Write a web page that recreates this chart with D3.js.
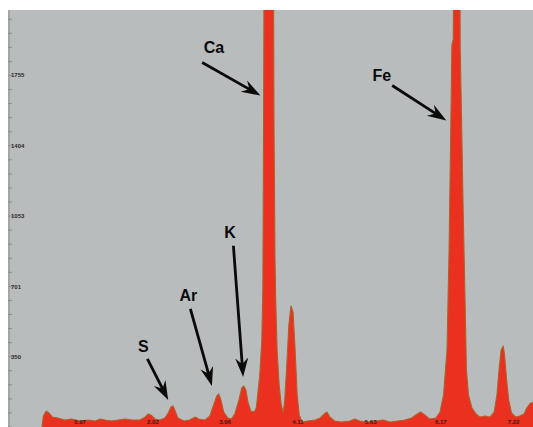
<!DOCTYPE html>
<html>
<head>
<meta charset="utf-8">
<script src="https://cdn.jsdelivr.net/npm/d3@7/dist/d3.min.js"></script>
<style>
  html, body { margin: 0; padding: 0; background: #ffffff; }
  svg { display: block; }
</style>
</head>
<body>
<svg id="chart" width="533" height="427"></svg>
<script>
// EDS spectrum: energy (keV) against counts
const energy = [0.42,0.44,0.48,0.52,0.57,0.65,0.75,0.85,0.97,1.09,1.19,1.26,1.33,1.43,1.52,1.62,1.72,1.83,1.91,1.95,1.99,2.05,2.12,2.19,2.24,2.28,2.31,2.34,2.38,2.47,2.55,2.63,2.68,2.77,2.84,2.90,2.94,2.97,3.00,3.04,3.10,3.15,3.20,3.26,3.30,3.33,3.36,3.39,3.43,3.48,3.51,3.53,3.56,3.59,3.605,3.615,3.625,3.69,3.755,3.765,3.78,3.79,3.81,3.84,3.87,3.90,3.92,3.95,3.98,4.01,4.04,4.07,4.10,4.13,4.17,4.25,4.36,4.43,4.49,4.53,4.57,4.64,4.74,4.86,4.93,5.00,5.12,5.22,5.34,5.44,5.55,5.65,5.75,5.83,5.88,5.94,6.01,6.10,6.16,6.21,6.26,6.29,6.32,6.33,6.35,6.37,6.40,6.44,6.45,6.47,6.49,6.52,6.54,6.57,6.62,6.68,6.73,6.81,6.88,6.94,6.98,7.01,7.04,7.07,7.09,7.12,7.15,7.19,7.25,7.31,7.37,7.41,7.45,7.50];
const counts = [0,55,80,70,50,45,35,40,30,35,30,40,35,30,35,40,35,35,50,65,60,40,35,45,70,100,105,80,45,30,35,50,40,35,55,115,155,165,135,75,45,40,65,135,195,205,185,125,80,75,95,160,260,435,700,1500,2600,5200,2600,1535,835,635,385,210,110,70,135,310,510,605,575,385,160,60,25,30,35,45,65,75,50,30,25,30,40,30,25,30,35,25,30,35,45,65,75,60,40,45,75,160,385,885,1635,1905,1935,3000,4100,3000,1905,1535,1135,635,285,160,95,65,50,55,50,75,160,285,385,405,360,235,135,70,50,55,65,95,115,125];

const xTickValues = [0.97, 2.02, 3.06, 4.11, 5.16, 6.17, 7.22];
const xTickLabels = ["0.97", "2.02", "3.06", "4.11", "5.63", "6.17", "7.22"];
const yTickValues = [350, 701, 1053, 1404, 1755];
const yTickLabels = ["350", "701", "1053", "1404", "1755"];

// element annotations: label point, arrow start and arrow tip, all in (keV, counts)
const elements   = ["S", "Ar", "K", "Ca", "Fe"];
const labelKeV   = [1.88, 2.53, 3.13, 2.90, 5.32];
const labelCnt   = [404, 659, 974, 1897, 1758];
const startKeV   = [1.94, 2.56, 3.18, 2.73, 5.47];
const startCnt   = [340, 590, 905, 1820, 1705];
const tipKeV     = [2.24, 2.87, 3.32, 3.57, 6.25];
const tipCnt     = [135, 205, 250, 1655, 1530];

const svg = d3.select("#chart");
const plot = { left: 8, top: 10, right: 533, bottom: 427 };

const x = d3.scaleLinear().domain([-0.07, 7.5]).range([plot.left, plot.right]);
const y = d3.scaleLinear().domain([0, 2082]).range([plot.bottom, plot.top]);

svg.append("defs").append("clipPath").attr("id", "plotClip")
  .append("rect")
  .attr("x", plot.left).attr("y", plot.top)
  .attr("width", plot.right - plot.left).attr("height", plot.bottom - plot.top);

// plot background
svg.append("rect")
  .attr("x", plot.left).attr("y", plot.top)
  .attr("width", plot.right - plot.left).attr("height", plot.bottom - plot.top)
  .attr("fill", "#b9bcbd");

// spectrum area
const pts = energy.map((e, i) => [e, counts[i]]);
const area = d3.area()
  .x(d => x(d[0]))
  .y0(y(0))
  .y1(d => y(d[1]));
const line = d3.line()
  .x(d => x(d[0]))
  .y(d => y(d[1]));

const g = svg.append("g").attr("clip-path", "url(#plotClip)");
g.append("path")
  .datum(pts)
  .attr("d", area)
  .attr("fill", "#ea301e");
g.append("path")
  .datum(pts)
  .attr("d", line)
  .attr("fill", "none")
  .attr("stroke", "#b0602c")
  .attr("stroke-width", 1.1)
  .attr("stroke-linejoin", "round");

// left axis strip with major and minor ticks
svg.append("rect")
  .attr("x", plot.left).attr("y", plot.top)
  .attr("width", 2).attr("height", plot.bottom - plot.top)
  .attr("fill", "#a3a6a8");

const minorTicks = d3.range(0, 2082, 351 / 5);
svg.append("g").selectAll("line.minor")
  .data(minorTicks)
  .join("line")
  .attr("x1", plot.left).attr("x2", plot.left + 4)
  .attr("y1", d => y(d)).attr("y2", d => y(d))
  .attr("stroke", "#8d9093").attr("stroke-width", 1);

svg.append("g").selectAll("text.ytick")
  .data(yTickValues)
  .join("text")
  .attr("x", plot.left + 3)
  .attr("y", d => y(d) + 2)
  .attr("font-family", "Liberation Sans, Arial, sans-serif")
  .attr("font-size", 6)
  .attr("font-weight", "bold")
  .attr("fill", "#2a2a2a")
  .text((d, i) => yTickLabels[i]);

// bottom tick labels
svg.append("g").selectAll("text.xtick")
  .data(xTickValues)
  .join("text")
  .attr("x", d => x(d))
  .attr("y", plot.bottom - 3)
  .attr("text-anchor", "middle")
  .attr("font-family", "Liberation Sans, Arial, sans-serif")
  .attr("font-size", 6)
  .attr("font-weight", "bold")
  .attr("fill", "#3a1a10")
  .text((d, i) => xTickLabels[i]);

// element arrows
function arrowPath(x0, y0, x1, y1) {
  const dx = x1 - x0, dy = y1 - y0;
  const len = Math.hypot(dx, dy);
  const ux = dx / len, uy = dy / len;
  const px = -uy, py = ux;
  const headLen = 19, headW = 6.5, shaftW = 1.4, notch = 5;
  const bx = x1 - ux * headLen, by = y1 - uy * headLen;
  const nx = x1 - ux * (headLen - notch), ny = y1 - uy * (headLen - notch);
  const p = [
    [x0 + px * shaftW, y0 + py * shaftW],
    [nx + px * shaftW, ny + py * shaftW],
    [bx + px * headW, by + py * headW],
    [x1, y1],
    [bx - px * headW, by - py * headW],
    [nx - px * shaftW, ny - py * shaftW],
    [x0 - px * shaftW, y0 - py * shaftW]
  ];
  return "M" + p.map(q => q[0].toFixed(2) + "," + q[1].toFixed(2)).join("L") + "Z";
}

const ann = svg.append("g");
elements.forEach((el, i) => {
  ann.append("path")
    .attr("d", arrowPath(x(startKeV[i]), y(startCnt[i]), x(tipKeV[i]), y(tipCnt[i])))
    .attr("fill", "#0a0a0a");
  ann.append("text")
    .attr("x", x(labelKeV[i]))
    .attr("y", y(labelCnt[i]))
    .attr("dy", "0.36em")
    .attr("text-anchor", "middle")
    .attr("font-family", "Liberation Sans, Arial, sans-serif")
    .attr("font-size", 16)
    .attr("font-weight", "bold")
    .attr("fill", "#0a0a0a")
    .text(el);
});
</script>
</body>
</html>
